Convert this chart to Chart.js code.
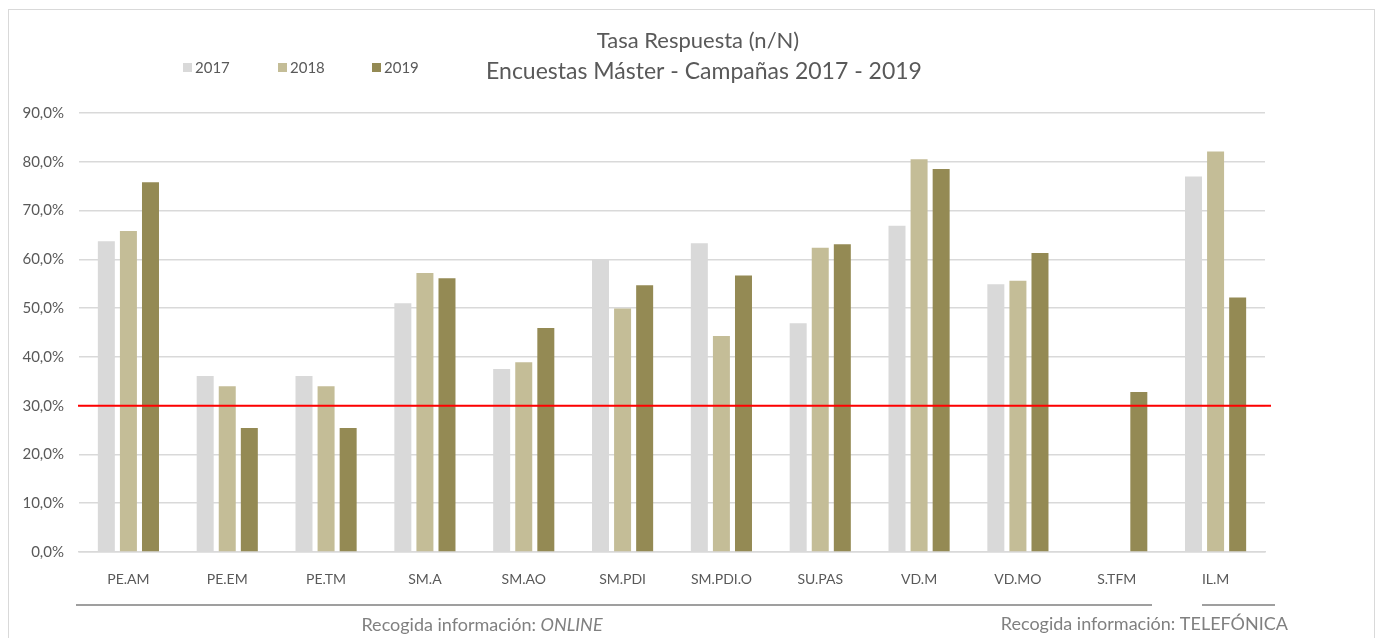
<!DOCTYPE html>
<html>
<head>
<meta charset="utf-8">
<script src="https://cdn.jsdelivr.net/npm/chart.js@4"></script>
<style>
  html, body { margin: 0; padding: 0; background: #fff; }
  #wrap { width: 1383px; height: 638px; }
</style>
</head>
<body>
<div id="wrap"><canvas id="rateChart"></canvas></div>
<script>
const categories = ['PE.AM', 'PE.EM', 'PE.TM', 'SM.A', 'SM.AO', 'SM.PDI', 'SM.PDI.O', 'SU.PAS', 'VD.M', 'VD.MO', 'S.TFM', 'IL.M'];
const years = ['2017', '2018', '2019'];
const rate2017 = [63.7, 36.1, 36.1, 51.0, 37.5, 60.0, 63.3, 46.9, 66.9, 54.9, null, 77.0];
const rate2018 = [65.8, 34.0, 34.0, 57.2, 38.9, 49.9, 44.3, 62.4, 80.5, 55.6, null, 82.1];
const rate2019 = [75.8, 25.4, 25.4, 56.1, 45.9, 54.7, 56.7, 63.1, 78.5, 61.3, 32.8, 52.2];
const threshold = 30;
const titleLines = ['Tasa Respuesta (n/N)', 'Encuestas Máster - Campañas 2017 - 2019'];
const groupNotes = ['Recogida información: ', 'ONLINE', 'TELEFÓNICA'];

const colors = ['#d9d9d9', '#c4bd97', '#948a54'];
const FONT = 'Lato, "Open Sans", sans-serif';

// title, legend, red threshold line and the bottom notes
const decorations = {
  id: 'decorations',
  afterDatasetsDraw(chart) {
    const { ctx, chartArea, scales } = chart;
    ctx.save();

    // threshold line
    const yT = scales.y.getPixelForValue(threshold);
    ctx.strokeStyle = '#ff0000';
    ctx.lineWidth = 2;
    ctx.beginPath();
    ctx.moveTo(chartArea.left - 1, yT);
    ctx.lineTo(chartArea.right + 6, yT);
    ctx.stroke();
    ctx.restore();
  },
  afterDraw(chart) {
    const { ctx } = chart;
    ctx.save();

    // outer frame
    ctx.strokeStyle = '#d9d9d9';
    ctx.lineWidth = 1;
    ctx.strokeRect(8.5, 9.5, 1366, 640);

    // title
    ctx.fillStyle = '#595959';
    ctx.textAlign = 'center';
    ctx.textBaseline = 'middle';
    ctx.font = '22px ' + FONT;
    ctx.fillText(titleLines[0], 698, 41);
    ctx.font = '23px ' + FONT;
    ctx.fillText(titleLines[1], 704, 72);

    // legend
    ctx.font = '15px ' + FONT;
    ctx.textAlign = 'left';
    const legendX = [183, 278, 372];
    chart.data.datasets.forEach((ds, i) => {
      ctx.fillStyle = ds.backgroundColor;
      ctx.fillRect(legendX[i], 63, 9, 9);
      ctx.fillStyle = '#595959';
      ctx.fillText(ds.label, legendX[i] + 12, 68);
    });

    // bottom group lines
    ctx.strokeStyle = '#808080';
    ctx.lineWidth = 1.5;
    ctx.beginPath();
    ctx.moveTo(76, 605);
    ctx.lineTo(1152, 605);
    ctx.moveTo(1202, 605);
    ctx.lineTo(1275, 605);
    ctx.stroke();

    // bottom notes
    ctx.fillStyle = '#808080';
    ctx.font = '18px ' + FONT;
    const w1 = ctx.measureText(groupNotes[0]).width;
    ctx.font = 'italic 18px ' + FONT;
    const w2 = ctx.measureText(groupNotes[1]).width;
    let x0 = 482 - (w1 + w2) / 2;
    ctx.font = '18px ' + FONT;
    ctx.fillText(groupNotes[0], x0, 625);
    ctx.font = 'italic 18px ' + FONT;
    ctx.fillText(groupNotes[1], x0 + w1, 625);
    ctx.font = '18px ' + FONT;
    ctx.textAlign = 'right';
    ctx.fillText(groupNotes[0] + groupNotes[2], 1288, 624);

    ctx.restore();
  }
};

const ctx = document.getElementById('rateChart');

const chart = new Chart(ctx, {
  type: 'bar',
  data: {
    labels: categories,
    datasets: [rate2017, rate2018, rate2019].map((vals, i) => ({
      label: years[i],
      data: vals,
      backgroundColor: colors[i],
      borderWidth: 0,
      categoryPercentage: 0.67,
      barPercentage: 0.77
    }))
  },
  options: {
    responsive: true,
    maintainAspectRatio: false,
    animation: false,
    layout: {
      padding: { left: 15, right: 118, top: 113, bottom: 0 }
    },
    plugins: {
      legend: { display: false },
      title: { display: false },
      tooltip: { enabled: false }
    },
    scales: {
      x: {
        grid: { display: false, drawTicks: false },
        border: { color: '#d9d9d9', width: 1.5 },
        ticks: {
          color: '#595959',
          font: { family: FONT, size: 14 },
          padding: 19,
          maxRotation: 0
        },
        afterFit: s => { s.height = 86; }
      },
      y: {
        min: 0,
        max: 90,
        grid: { color: '#d9d9d9', lineWidth: 1.5, drawTicks: false },
        border: { display: false },
        ticks: {
          stepSize: 10,
          color: '#595959',
          font: { family: FONT, size: 15 },
          padding: 15,
          callback: v => v.toFixed(1).replace('.', ',') + '%'
        },
        afterFit: s => { s.width = 64; }
      }
    }
  },
  plugins: [decorations]
});
</script>
</body>
</html>
